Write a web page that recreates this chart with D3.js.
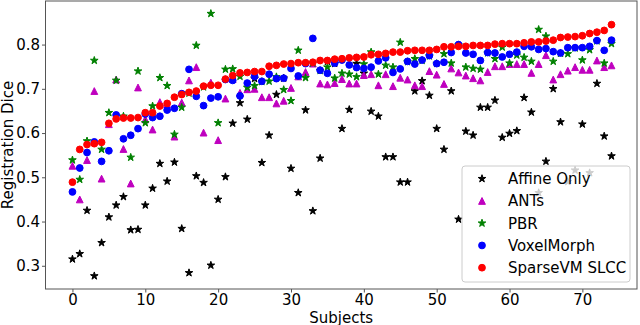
<!DOCTYPE html>
<html>
<head>
<meta charset="utf-8">
<script src="https://cdn.jsdelivr.net/npm/d3@7"></script>
<style>
  body { margin: 0; background: #fff; }
  text { font-family: "DejaVu Sans", sans-serif; }
</style>
</head>
<body>
<div id="chart"></div>
<script>
var width = 640,
    height = 325;

// plot frame in pixels: left, right, top, bottom
var frame = [45.5, 637, 1, 289];

var subjects = d3.range(75);
var xTicks = [0, 10, 20, 30, 40, 50, 60, 70];
var yTicks = [0.3, 0.4, 0.5, 0.6, 0.7, 0.8];

var affineOnly = [0.315, 0.327, 0.425, 0.277, 0.352, 0.410, 0.437, 0.456, 0.381, 0.382,
    0.437, 0.475, 0.531, 0.491, 0.534, 0.384, 0.284, 0.503, 0.488, 0.301,
    0.450, 0.501, 0.622, 0.668, 0.631, 0.723, 0.533, 0.595, 0.687, 0.724,
    0.520, 0.465, 0.652, 0.424, 0.543, 0.762, 0.757, 0.610, 0.653, 0.757,
    0.735, 0.649, 0.638, 0.546, 0.546, 0.489, 0.489, 0.695, 0.718, 0.685,
    0.610, 0.563, 0.695, 0.405, 0.604, 0.595, 0.658, 0.658, 0.674, 0.590,
    0.599, 0.605, 0.680, 0.647, 0.465, 0.536, 0.700, 0.625, 0.490, 0.516,
    0.620, 0.510, 0.712, 0.593, 0.548];

var ants = [0.526, 0.450, 0.539, 0.695, 0.497, 0.620, 0.721, 0.564, 0.486, 0.703,
    0.631, 0.608, 0.670, 0.665, 0.592, 0.669, 0.719, 0.749, 0.601, 0.714,
    0.584, 0.678, 0.722, 0.691, 0.699, 0.700, 0.681, 0.681, 0.667, 0.673,
    0.702, 0.728, 0.738, 0.757, 0.712, 0.710, 0.713, 0.722, 0.712, 0.712,
    0.731, 0.733, 0.708, 0.733, 0.706, 0.725, 0.721, 0.708, 0.706, 0.740,
    0.732, 0.711, 0.746, 0.737, 0.730, 0.724, 0.719, 0.738, 0.751, 0.751,
    0.756, 0.756, 0.756, 0.736, 0.756, 0.776, 0.721, 0.733, 0.741, 0.749,
    0.743, 0.743, 0.764, 0.749, 0.753];

var pbr = [0.539, 0.495, 0.582, 0.764, 0.563, 0.646, 0.719, 0.638, 0.545, 0.740,
    0.623, 0.661, 0.725, 0.707, 0.597, 0.658, 0.690, 0.798, 0.704, 0.870,
    0.623, 0.744, 0.745, 0.728, 0.703, 0.707, 0.716, 0.717, 0.727, 0.698,
    0.673, 0.787, 0.725, 0.758, 0.741, 0.749, 0.724, 0.735, 0.733, 0.727,
    0.756, 0.783, 0.733, 0.753, 0.749, 0.805, 0.761, 0.768, 0.764, 0.774,
    0.757, 0.779, 0.758, 0.799, 0.749, 0.746, 0.744, 0.781, 0.768, 0.794,
    0.758, 0.776, 0.771, 0.762, 0.834, 0.819, 0.762, 0.780, 0.779, 0.792,
    0.765, 0.788, 0.808, 0.758, 0.802];

var voxelMorph = [0.467, 0.521, 0.556, 0.580, 0.536, 0.560, 0.641, 0.587, 0.595, 0.610,
    0.643, 0.635, 0.638, 0.652, 0.656, 0.689, 0.744, 0.683, 0.662, 0.679,
    0.682, 0.721, 0.719, 0.684, 0.713, 0.728, 0.717, 0.733, 0.723, 0.724,
    0.746, 0.729, 0.757, 0.814, 0.742, 0.735, 0.758, 0.765, 0.754, 0.748,
    0.746, 0.749, 0.763, 0.770, 0.737, 0.745, 0.762, 0.756, 0.765, 0.775,
    0.757, 0.760, 0.782, 0.800, 0.781, 0.778, 0.764, 0.782, 0.781, 0.772,
    0.778, 0.783, 0.796, 0.795, 0.789, 0.791, 0.784, 0.781, 0.793, 0.793,
    0.793, 0.796, 0.809, 0.787, 0.810];

var sparseVM = [0.489, 0.563, 0.574, 0.576, 0.579, 0.622, 0.632, 0.634, 0.634, 0.635,
    0.646, 0.646, 0.661, 0.667, 0.681, 0.687, 0.692, 0.695, 0.706, 0.708,
    0.708, 0.722, 0.730, 0.736, 0.737, 0.739, 0.739, 0.751, 0.753, 0.756,
    0.757, 0.759, 0.759, 0.760, 0.764, 0.764, 0.767, 0.768, 0.770, 0.771,
    0.772, 0.777, 0.778, 0.780, 0.783, 0.783, 0.786, 0.787, 0.787, 0.787,
    0.789, 0.795, 0.795, 0.796, 0.796, 0.798, 0.798, 0.798, 0.801, 0.802,
    0.802, 0.802, 0.804, 0.806, 0.806, 0.808, 0.810, 0.816, 0.817, 0.818,
    0.820, 0.825, 0.828, 0.832, 0.845];

var seriesNames = ["Affine Only", "ANTs", "PBR", "VoxelMorph", "SparseVM SLCC"];
var seriesValues = [affineOnly, ants, pbr, voxelMorph, sparseVM];
var seriesColors = ["#000000", "#bf00bf", "#008000", "#0000ff", "#ff0000"];
var seriesShapes = ["star", "triangle", "star", "circle", "circle"];

function starPath(R) {
    var r = R * 0.381966, pts = [];
    for (var k = 0; k < 10; k++) {
        var a = -Math.PI / 2 + k * Math.PI / 5;
        var rad = k % 2 === 0 ? R : r;
        pts.push([(rad * Math.cos(a)).toFixed(2), (rad * Math.sin(a)).toFixed(2)]);
    }
    return "M" + pts.join("L") + "Z";
}

function markerPath(shape) {
    if (shape == "star") return starPath(4.0);
    if (shape == "triangle") return "M0,-3.4L3.4,3.4L-3.4,3.4Z";
    var r = 3.4;
    return "M" + r + ",0A" + r + "," + r + " 0 1,1 " + (-r) + ",0A" + r + "," + r + " 0 1,1 " + r + ",0Z";
}

var svg = d3.select("#chart")
    .append("svg")
    .attr("width", width)
    .attr("height", height);

var xScale = d3.scaleLinear()
    .domain([-3.7, 77.5])
    .range([frame[0], frame[1]]);

var yScale = d3.scaleLinear()
    .domain([0.2475, 0.8985])
    .range([frame[3], frame[2]]);

// markers, drawn in plotting order
seriesValues.forEach(function(vals, s) {
    svg.append("g")
        .attr("class", "series")
        .selectAll("path")
        .data(subjects)
        .enter().append("path")
        .attr("transform", function(i) {
            return "translate(" + xScale(i) + "," + yScale(vals[i]) + ")";
        })
        .attr("d", markerPath(seriesShapes[s]))
        .style("fill", seriesColors[s])
        .style("stroke", seriesColors[s])
        .style("stroke-width", 1)
        .style("stroke-linejoin", "miter");
});

var xAxis = d3.axisBottom(xScale)
    .tickValues(xTicks)
    .tickSize(3.5)
    .tickPadding(1.5)
    .tickSizeOuter(0);

var yAxis = d3.axisLeft(yScale)
    .tickValues(yTicks)
    .tickFormat(d3.format(".1f"))
    .tickSize(3.5)
    .tickPadding(2)
    .tickSizeOuter(0);

var gX = svg.append("g")
    .attr("transform", "translate(0," + frame[3] + ")")
    .call(xAxis);

var gY = svg.append("g")
    .attr("transform", "translate(" + frame[0] + ",0)")
    .call(yAxis);

[gX, gY].forEach(function(g) {
    g.select(".domain").remove();
    g.selectAll(".tick line").attr("stroke", "#555");
    g.selectAll(".tick text")
        .attr("fill", "#000")
        .style("font-size", "15px")
        .style("font-family", "'DejaVu Sans', sans-serif");
});

svg.append("rect")
    .attr("x", frame[0])
    .attr("y", frame[2])
    .attr("width", frame[1] - frame[0])
    .attr("height", frame[3] - frame[2])
    .style("fill", "none")
    .style("stroke", "#555")
    .style("stroke-width", 1);

svg.append("text")
    .attr("x", (frame[0] + frame[1]) / 2)
    .attr("y", 322.5)
    .style("text-anchor", "middle")
    .style("font-size", "15px")
    .text("Subjects");

svg.append("text")
    .attr("transform", "translate(13," + ((frame[2] + frame[3]) / 2) + ") rotate(-90)")
    .style("text-anchor", "middle")
    .style("font-size", "15px")
    .text("Registration Dice");

// legend, lower right
var legend = svg.append("g").attr("class", "legend");

legend.append("rect")
    .attr("x", 462)
    .attr("y", 166)
    .attr("width", 168)
    .attr("height", 116)
    .attr("rx", 3)
    .style("fill", "#fff")
    .style("fill-opacity", 0.8)
    .style("stroke", "#cccccc")
    .style("stroke-width", 1);

var rows = legend.selectAll("g.row")
    .data(seriesNames)
    .enter().append("g")
    .attr("class", "row")
    .attr("transform", function(d, i) {
        return "translate(482," + (178.7 + i * 22.25) + ")";
    });

rows.append("path")
    .attr("d", function(d, i) { return markerPath(seriesShapes[i]); })
    .style("fill", function(d, i) { return seriesColors[i]; })
    .style("stroke", function(d, i) { return seriesColors[i]; })
    .style("stroke-width", 1);

rows.append("text")
    .attr("x", 26)
    .attr("y", 5.5)
    .style("font-size", "15px")
    .text(function(d) { return d; });
</script>
</body>
</html>
